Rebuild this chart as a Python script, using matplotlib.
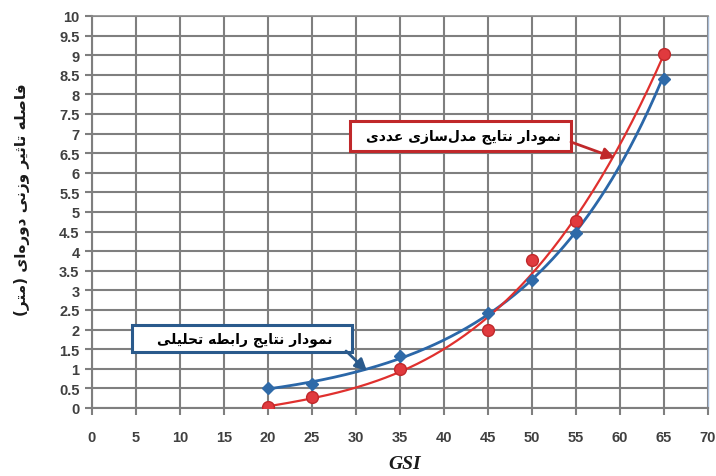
import numpy as np
import matplotlib
matplotlib.use("Agg")
import matplotlib.pyplot as plt
from matplotlib.patches import Rectangle

# ---------------- data ----------------
gsi_blue = [20, 25, 35, 45, 50, 55, 65]
val_blue = [0.50, 0.62, 1.33, 2.43, 3.27, 4.47, 8.40]
gsi_red = [20, 25, 35, 45, 50, 55, 65]
val_red = [0.02, 0.27, 1.00, 2.00, 3.77, 4.78, 9.02]
x_ticks = list(range(0, 71, 5))
y_ticks = [i * 0.5 for i in range(21)]
ylabel_text = "فاصله تاثیر وزنی دوره‌ای (متر)"
red_label = "نمودار نتایج مدل‌سازی عددی"
blue_label = "نمودار نتایج رابطه تحلیلی"
xlabel_text = "GSI"

# ---------------- simple Arabic/Persian shaping ----------------
FORMS = {  # isolated, final, initial, medial
    'ا': ('\uFE8D', '\uFE8E', None, None),
    'ب': ('\uFE8F', '\uFE90', '\uFE91', '\uFE92'),
    'ت': ('\uFE95', '\uFE96', '\uFE97', '\uFE98'),
    'ث': ('\uFE99', '\uFE9A', '\uFE9B', '\uFE9C'),
    'ج': ('\uFE9D', '\uFE9E', '\uFE9F', '\uFEA0'),
    'ح': ('\uFEA1', '\uFEA2', '\uFEA3', '\uFEA4'),
    'د': ('\uFEA9', '\uFEAA', None, None),
    'ر': ('\uFEAD', '\uFEAE', None, None),
    'ز': ('\uFEAF', '\uFEB0', None, None),
    'س': ('\uFEB1', '\uFEB2', '\uFEB3', '\uFEB4'),
    'ص': ('\uFEB9', '\uFEBA', '\uFEBB', '\uFEBC'),
    'ط': ('\uFEC1', '\uFEC2', '\uFEC3', '\uFEC4'),
    'ع': ('\uFEC9', '\uFECA', '\uFECB', '\uFECC'),
    'ف': ('\uFED1', '\uFED2', '\uFED3', '\uFED4'),
    'ل': ('\uFEDD', '\uFEDE', '\uFEDF', '\uFEE0'),
    'م': ('\uFEE1', '\uFEE2', '\uFEE3', '\uFEE4'),
    'ن': ('\uFEE5', '\uFEE6', '\uFEE7', '\uFEE8'),
    'ه': ('\uFEE9', '\uFEEA', '\uFEEB', '\uFEEC'),
    'و': ('\uFEED', '\uFEEE', None, None),
    'ی': ('\uFEEF', '\uFEF0', '\uFEF3', '\uFEF4'),
}


def dual(c):
    return c in FORMS and FORMS[c][2] is not None


def joining(c):
    return c in FORMS


def shape(text):
    chars = list(text)
    out = []
    for i, c in enumerate(chars):
        if c == '\u200c':
            continue
        if c not in FORMS:
            out.append({'(': ')', ')': '('}.get(c, c))
            continue
        prev = chars[i - 1] if i > 0 else ''
        nxt = chars[i + 1] if i + 1 < len(chars) else ''
        jp = dual(prev)
        jn = dual(c) and joining(nxt)
        iso, fin, ini, med = FORMS[c]
        if jp and jn:
            g = med
        elif jp:
            g = fin
        elif jn:
            g = ini
        else:
            g = iso
        out.append(g)
    return ''.join(reversed(out))


# ---------------- figure ----------------
fig = plt.figure(figsize=(7.16, 4.77), dpi=100)
ax = fig.add_axes([92 / 716, 1 - 409 / 477, (708 - 92) / 716, (409 - 17) / 477])

ax.set_xlim(0, 70)
ax.set_ylim(0, 10)
ax.set_xticks(x_ticks)
ax.set_yticks(y_ticks)
ax.set_xticklabels([str(t) for t in x_ticks])
ax.set_yticklabels([('%g' % t) for t in y_ticks])
ax.grid(True, color='#7f7f7f', linewidth=1.5)
ax.set_axisbelow(True)
ax.spines['top'].set_color('#8a8a8a')
ax.spines['top'].set_linewidth(1.2)
ax.spines['right'].set_color('#a8bcd6')
ax.spines['right'].set_linewidth(1.0)
for s in ['left', 'bottom']:
    ax.spines[s].set_color('#7f7f7f')
    ax.spines[s].set_linewidth(1.5)
ax.tick_params(axis='both', length=5, width=1.5, color='#7f7f7f',
               labelsize=10.5, labelcolor='#404040', pad=4)
ax.tick_params(axis='x', pad=11)
for lab in ax.get_xticklabels() + ax.get_yticklabels():
    lab.set_fontweight('bold')
    lab.set_family('Liberation Sans')

# trend curves
xs = np.linspace(20, 65, 200)
kb, lb = np.polyfit(gsi_blue, np.log(val_blue), 1)
ax.plot(xs, np.exp(lb + kb * xs), color='#2b67a8', lw=2.0, zorder=3)
pr = np.polyfit(gsi_red, val_red, 3)
ax.plot(xs, np.polyval(pr, xs), color='#e0302e', lw=1.6, zorder=3)

ax.plot(gsi_red, val_red, 'o', color='#e03a3e', markeredgecolor='#c0282a',
        markersize=8.5, zorder=4)
ax.plot(gsi_blue, val_blue, 'D', color='#2f6aa8', markeredgecolor='#2f6aa8',
        markersize=6, zorder=5)

# annotation boxes (pixel positions converted to axes fraction)
def px2ax(px, py):
    return ((px - 92) / (708 - 92), (409 - py) / (409 - 17))


def draw_box(x0, y0, x1, y1, edge, text):
    a0 = px2ax(x0, y1)
    a1 = px2ax(x1, y0)
    ax.add_patch(Rectangle(a0, a1[0] - a0[0], a1[1] - a0[1], transform=ax.transAxes,
                           facecolor='white', edgecolor=edge, lw=2.2, zorder=6))
    cx, cy = px2ax((x0 + x1) / 2 + 3, (y0 + y1) / 2)
    ax.text(cx, cy, shape(text), transform=ax.transAxes, ha='center', va='center',
            fontsize=10, fontweight='bold', family='DejaVu Sans', color='#000000', zorder=7)


draw_box(350, 122, 571, 152, '#c0282a', red_label)
draw_box(132, 326, 352, 353, '#2a5a8c', blue_label)

ax.annotate('', xy=px2ax(615, 159), xytext=px2ax(571, 143), xycoords='axes fraction',
            textcoords='axes fraction',
            arrowprops=dict(arrowstyle='-|>,head_length=0.7,head_width=0.35', color='#c0282a', lw=2.0,
                            shrinkA=0, shrinkB=0), zorder=6)
ax.annotate('', xy=px2ax(367, 372), xytext=px2ax(346, 352), xycoords='axes fraction',
            textcoords='axes fraction',
            arrowprops=dict(arrowstyle='-|>,head_length=0.7,head_width=0.35', color='#2a5a8c', lw=2.0,
                            shrinkA=0, shrinkB=0), zorder=6)

fig.text(22 / 716, 1 - 200 / 477, shape(ylabel_text), rotation=90, ha='center', va='center',
         fontsize=11, fontweight='bold', family='DejaVu Sans', color='#1a1a1a')
fig.text(405 / 716, 1 - 465 / 477, xlabel_text, ha='center', va='center',
         fontsize=14, fontweight='bold', style='italic', family='Liberation Serif', color='#1a1a1a')

fig.savefig('out.png', dpi=100)
